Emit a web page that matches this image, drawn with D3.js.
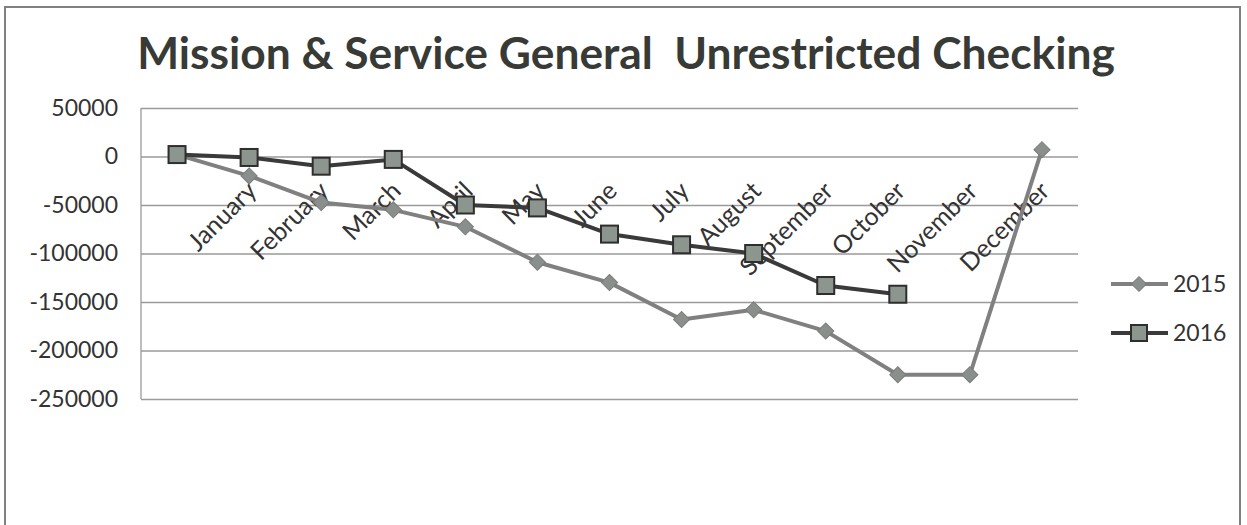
<!DOCTYPE html>
<html><head><meta charset="utf-8">
<script src="https://cdn.jsdelivr.net/npm/d3@7"></script>
<style>body{margin:0;background:#fff} svg{display:block}</style>
</head><body>
<svg id="c" width="1247" height="525"></svg>
<script>
const categories = ["", "January", "February", "March", "April", "May", "June", "July", "August", "September", "October", "November", "December"];
const values2015 = [2000, -20000, -47500, -55000, -72500, -109000, -130000, -168000, -158000, -180000, -225000, -225000, 7000];
const values2016 = [2000, -1000, -10000, -3000, -50000, -53000, -80000, -91000, -100000, -133000, -142000];
const yTicks = [50000, 0, -50000, -100000, -150000, -200000, -250000];
const seriesNames = ["2015", "2016"];
const titleText = "Mission & Service General  Unrestricted Checking";

const svg = d3.select("#c");
const FONT = "Lato, 'Open Sans', sans-serif";
const textCol = "#333";

// outer frame
svg.append("rect").attr("x", 5).attr("y", 7).attr("width", 1235).attr("height", 540)
  .attr("fill", "none").attr("stroke", "#808080").attr("stroke-width", 2);

const x = d3.scaleBand().domain(d3.range(categories.length)).range([141, 1078]);
const cx = i => x(i) + x.bandwidth() / 2;
const y = d3.scaleLinear().domain([-250000, 50000]).range([399, 108]);

// gridlines
const grid = d3.axisLeft(y).tickValues(yTicks).tickSize(-(1078 - 141)).tickFormat("");
const gg = svg.append("g").attr("transform", "translate(141,0)").call(grid);
gg.select(".domain").remove();
gg.selectAll(".tick line").attr("stroke", "#9a9a9a").attr("stroke-width", 1.3);
// left axis line
svg.append("line").attr("x1", 141).attr("x2", 141).attr("y1", y(50000)).attr("y2", y(-250000))
  .attr("stroke", "#9a9a9a").attr("stroke-width", 1.3);

// y labels
const ya = d3.axisLeft(y).tickValues(yTicks).tickSize(0).tickPadding(23).tickFormat(d => String(d));
const yg = svg.append("g").attr("transform", "translate(141,0)").call(ya);
yg.select(".domain").remove();
yg.selectAll("text").attr("font-family", FONT).attr("font-size", 23).attr("fill", textCol);

// x axis at zero with rotated labels
const xa = d3.axisBottom(x).tickSize(0).tickFormat(i => categories[i]);
const xg = svg.append("g").attr("transform", `translate(0,${y(0)})`).call(xa);
xg.select(".domain").remove();
xg.selectAll("text").attr("font-family", FONT).attr("font-size", 25).attr("fill", textCol)
  .attr("text-anchor", "end").attr("dy", null).attr("y", 0)
  .attr("transform", "translate(9,36) rotate(-45)");

// lines
const line = d3.line().x((d, i) => cx(i)).y(d => y(d));
svg.append("path").datum(values2015).attr("d", line).attr("fill", "none")
  .attr("stroke", "#808080").attr("stroke-width", 4).attr("stroke-linejoin", "round");
svg.selectAll(".d15").data(values2015).enter().append("path")
  .attr("d", d3.symbol(d3.symbolSquare, 130)())
  .attr("transform", (d, i) => `translate(${cx(i)},${y(d)}) rotate(45)`)
  .attr("fill", "#8a8f8c").attr("stroke", "#7a7d7b").attr("stroke-width", 1);

svg.append("path").datum(values2016).attr("d", line).attr("fill", "none")
  .attr("stroke", "#3a3a3a").attr("stroke-width", 4).attr("stroke-linejoin", "round");
svg.selectAll(".s16").data(values2016).enter().append("rect")
  .attr("x", (d, i) => cx(i) - 8.5).attr("y", d => y(d) - 8.5)
  .attr("width", 17).attr("height", 17)
  .attr("fill", "#8c968f").attr("stroke", "#2e2e2e").attr("stroke-width", 2);

// legend
const lg = svg.append("g");
const ly = [284, 333];
lg.append("line").attr("x1", 1111).attr("x2", 1168).attr("y1", ly[0]).attr("y2", ly[0])
  .attr("stroke", "#808080").attr("stroke-width", 4);
lg.append("path").attr("d", d3.symbol(d3.symbolSquare, 110)())
  .attr("transform", `translate(1139,${ly[0]}) rotate(45)`).attr("fill", "#8a8f8c").attr("stroke", "#7a7d7b");
lg.append("line").attr("x1", 1111).attr("x2", 1168).attr("y1", ly[1]).attr("y2", ly[1])
  .attr("stroke", "#3a3a3a").attr("stroke-width", 4);
lg.append("rect").attr("x", 1131).attr("y", ly[1] - 8).attr("width", 16).attr("height", 16)
  .attr("fill", "#8c968f").attr("stroke", "#2e2e2e").attr("stroke-width", 2);
seriesNames.forEach((n, i) => {
  lg.append("text").attr("x", 1173).attr("y", ly[i]).attr("dy", "0.36em")
    .attr("font-family", FONT).attr("font-size", 23).attr("fill", textCol).text(n);
});

// title fitted to width
const t = svg.append("text").attr("x", 626).attr("y", 69).attr("text-anchor", "middle")
  .attr("font-family", FONT).attr("font-weight", "bold").attr("font-size", 36)
  .attr("fill", "#383a36").style("white-space", "pre").text(titleText);
const w = t.node().getComputedTextLength();
t.attr("font-size", 36 * 978 / w);
</script>
</body></html>
